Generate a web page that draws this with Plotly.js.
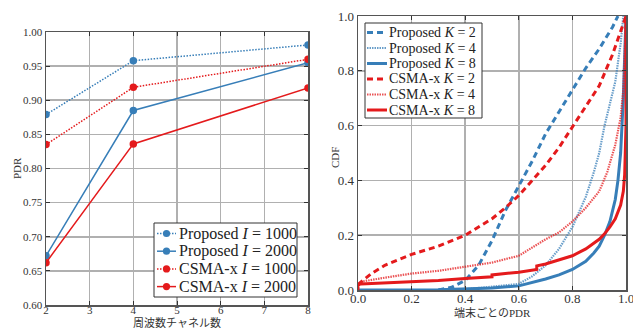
<!DOCTYPE html>
<html>
<head>
<meta charset="utf-8">
<script src="https://cdn.plot.ly/plotly-3.0.1.min.js"></script>
<style>html,body{margin:0;padding:0;background:#fff;}#chart{width:633px;height:329px;}</style>
</head>
<body>
<div id="chart"></div>
<script>
// Left panel: PDR vs number of channels
const channels = [2, 4, 8];
const propI1000 = [0.879, 0.958, 0.981];
const propI2000 = [0.672, 0.885, 0.955];
const csmaI1000 = [0.835, 0.919, 0.960];
const csmaI2000 = [0.662, 0.836, 0.918];
const leftNames = ['Proposed <i>I</i> = 1000', 'Proposed <i>I</i> = 2000', 'CSMA-x <i>I</i> = 1000', 'CSMA-x <i>I</i> = 2000'];

// Right panel: CDF of per-terminal PDR
const propK2x = [0.30,0.35,0.40,0.45,0.50,0.55,0.60,0.65,0.70,0.75,0.80,0.85,0.90,0.95,0.97];
const propK2y = [0,0.01,0.035,0.09,0.18,0.29,0.38,0.47,0.57,0.65,0.73,0.81,0.88,0.96,1.0];
const propK4x = [0.3,0.4,0.5,0.6,0.65,0.7,0.75,0.8,0.85,0.88,0.9,0.92,0.94,0.96,0.98,0.99];
const propK4y = [0,0.003,0.012,0.022,0.05,0.09,0.15,0.23,0.34,0.43,0.5,0.6,0.68,0.76,0.9,1.0];
const propK8x = [0,0.3,0.5,0.6,0.7,0.75,0.8,0.85,0.88,0.9,0.92,0.94,0.96,0.97,0.98,0.99,1.0];
const propK8y = [0,0.001,0.007,0.015,0.04,0.055,0.075,0.105,0.135,0.16,0.2,0.25,0.33,0.4,0.5,0.7,1.0];
const csmaK2x = [0,0.05,0.1,0.2,0.3,0.4,0.5,0.55,0.6,0.65,0.7,0.75,0.8,0.85,0.9,0.95,0.98,1.0];
const csmaK2y = [0.02,0.06,0.09,0.13,0.16,0.2,0.26,0.30,0.345,0.40,0.455,0.52,0.596,0.67,0.745,0.86,0.94,1.0];
const csmaK4x = [0,0.01,0.1,0.2,0.3,0.4,0.5,0.6,0.65,0.7,0.75,0.8,0.85,0.9,0.93,0.96,0.98,0.99,1.0];
const csmaK4y = [0.015,0.03,0.045,0.06,0.07,0.085,0.1,0.125,0.155,0.185,0.21,0.25,0.3,0.36,0.43,0.53,0.63,0.73,1.0];
const csmaK8x = [0,0,0.01,0.1,0.2,0.3,0.4,0.5,0.5,0.6,0.667,0.667,0.7,0.75,0.8,0.85,0.88,0.9,0.92,0.94,0.96,0.98,0.99,0.995,1.0,1.0];
const csmaK8y = [0,0.018,0.022,0.026,0.03,0.035,0.042,0.048,0.055,0.065,0.075,0.088,0.095,0.11,0.125,0.15,0.17,0.185,0.205,0.23,0.26,0.31,0.36,0.42,0.6,1.0];
const rightNames = ['Proposed <i>K</i> = 2', 'Proposed <i>K</i> = 4', 'Proposed <i>K</i> = 8', 'CSMA-x <i>K</i> = 2', 'CSMA-x <i>K</i> = 4', 'CSMA-x <i>K</i> = 8'];

const BLUE = '#377eb8', RED = '#e41a1c';
const FONT = '"Liberation Serif", "Noto Sans CJK JP", serif';
const W = 633, H = 329;
const px = v => v / W, py = v => 1 - v / H;

const DOTL = '1.5px,1.5px';   // left dotted
const DASHR = '6px,4px';      // right dashed
const DOTR = '1.5px,1px';     // right dotted

const leftStyles = [
  {color: BLUE, dash: DOTL}, {color: BLUE, dash: 'solid'},
  {color: RED, dash: DOTL}, {color: RED, dash: 'solid'}
];
const rightStyles = [
  {color: BLUE, dash: DASHR, width: 3, op: 1}, {color: BLUE, dash: DOTR, width: 2.2, op: 0.75}, {color: BLUE, dash: 'solid', width: 3, op: 1},
  {color: RED, dash: DASHR, width: 3, op: 1}, {color: RED, dash: DOTR, width: 2.2, op: 0.75}, {color: RED, dash: 'solid', width: 3, op: 1}
];

const leftY = [propI1000, propI2000, csmaI1000, csmaI2000];
const rightX = [propK2x, propK4x, propK8x, csmaK2x, csmaK4x, csmaK8x];
const rightY = [propK2y, propK4y, propK8y, csmaK2y, csmaK4y, csmaK8y];

const traces = [];
leftY.forEach((ys, i) => traces.push({
  x: channels, y: ys, name: leftNames[i], mode: 'lines+markers', showlegend: false,
  line: {color: leftStyles[i].color, width: 1.5, dash: leftStyles[i].dash},
  marker: {size: 7.5, color: leftStyles[i].color}, xaxis: 'x', yaxis: 'y'
}));
rightX.forEach((xs, i) => traces.push({
  x: xs, y: rightY[i], name: rightNames[i], mode: 'lines', showlegend: false, opacity: rightStyles[i].op,
  line: {color: rightStyles[i].color, width: rightStyles[i].width, dash: rightStyles[i].dash},
  xaxis: 'x2', yaxis: 'y2'
}));

const axisCommon = {
  showgrid: true, gridcolor: '#b0b0b0', gridwidth: 1.6,
  showline: true, linecolor: '#555', linewidth: 1.5, mirror: 'ticks',
  ticks: 'inside', ticklen: 4, tickcolor: '#333',
  zeroline: false, ticklabeloverflow: 'allow'
};

// custom legends (shapes + annotations)
const shapes = [];
const annotations = [];
function addLegend(box, rows, names, styles, textX, lineX0, lineX1, markerX, fontSize, withMarker) {
  shapes.push({type: 'rect', xref: 'paper', yref: 'paper', x0: px(box[0]), x1: px(box[1]), y0: py(box[3]), y1: py(box[2]),
    fillcolor: '#fff', line: {color: '#333', width: 1}, layer: 'above'});
  rows.forEach((ry, i) => {
    const st = styles[i];
    shapes.push({type: 'line', xref: 'paper', yref: 'paper', x0: px(lineX0), x1: px(lineX1), y0: py(ry), y1: py(ry),
      line: {color: st.color, width: st.width || 1.5, dash: st.dash}, opacity: st.op || 1, layer: 'above'});
    if (withMarker) {
      const r = 3.6;
      shapes.push({type: 'circle', xref: 'paper', yref: 'paper', x0: px(markerX - r), x1: px(markerX + r), y0: py(ry + r), y1: py(ry - r),
        fillcolor: st.color, line: {color: st.color, width: 0}, layer: 'above'});
    }
    annotations.push({xref: 'paper', yref: 'paper', x: px(textX), y: py(ry), xanchor: 'left', yanchor: 'middle',
      text: names[i], showarrow: false, font: {family: FONT, size: fontSize, color: '#222'}, borderpad: 0});
  });
}
addLegend([154, 297, 223, 297], [233.5, 251.2, 268.9, 286.6], leftNames, leftStyles, 177.5, 157, 176, 166.5, 16, true);
addLegend([365, 482, 23, 118], [32.5, 48, 63.5, 79, 94.5, 110], rightNames, rightStyles, 387.5, 367, 387, 0, 14, false);

// axis titles as annotations
annotations.push({xref: 'paper', yref: 'paper', x: px(177), y: py(323), xanchor: 'center', yanchor: 'middle', showarrow: false,
  text: '周波数チャネル数', font: {family: FONT, size: 11, color: '#333'}});
annotations.push({xref: 'paper', yref: 'paper', x: px(17), y: py(168), xanchor: 'center', yanchor: 'middle', showarrow: false, textangle: -90,
  text: 'PDR', font: {family: FONT, size: 11, color: '#333'}});
annotations.push({xref: 'paper', yref: 'paper', x: px(492), y: py(312), xanchor: 'center', yanchor: 'middle', showarrow: false,
  text: '端末ごとのPDR', font: {family: FONT, size: 11, color: '#333'}});
annotations.push({xref: 'paper', yref: 'paper', x: px(335), y: py(158), xanchor: 'center', yanchor: 'middle', showarrow: false, textangle: -90,
  text: 'CDF', font: {family: FONT, size: 11, color: '#333'}});

const layout = {
  width: W, height: H,
  margin: {l: 0, r: 0, t: 0, b: 0},
  paper_bgcolor: '#fff', plot_bgcolor: '#fff',
  font: {family: FONT, color: '#333'},
  showlegend: false,
  xaxis: Object.assign({}, axisCommon, {domain: [px(46), px(308)], range: [2, 8], dtick: 1, anchor: 'y',
    tickfont: {family: FONT, size: 11, color: '#333'}, ticklabelstandoff: -6}),
  yaxis: Object.assign({}, axisCommon, {domain: [1 - 305/H, 1 - 32/H], range: [0.6, 1.0], dtick: 0.05, tickformat: '.2f', anchor: 'x',
    tickfont: {family: FONT, size: 11, color: '#333'}}),
  xaxis2: Object.assign({}, axisCommon, {domain: [px(358), px(626)], range: [0, 1], dtick: 0.2, tickformat: '.1f', anchor: 'y2',
    tickfont: {family: FONT, size: 13, color: '#333'}, ticklabelstandoff: -4}),
  yaxis2: Object.assign({}, axisCommon, {domain: [1 - 290/H, 1 - 16/H], range: [0, 1], dtick: 0.2, tickformat: '.1f', anchor: 'x2',
    tickfont: {family: FONT, size: 13, color: '#333'}}),
  shapes: shapes,
  annotations: annotations
};

Plotly.newPlot('chart', traces, layout, {staticPlot: true, displayModeBar: false});
</script>
</body>
</html>
